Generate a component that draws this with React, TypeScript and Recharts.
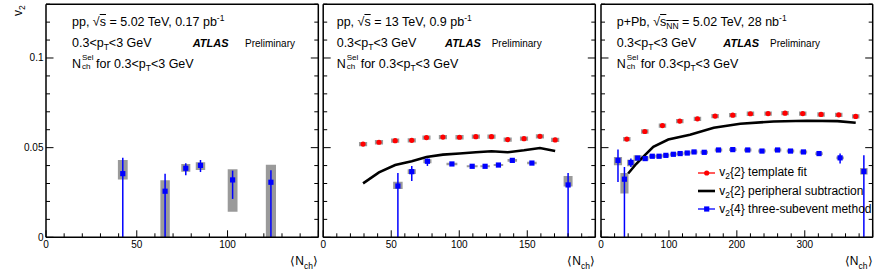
import { ComposedChart, Scatter, XAxis, YAxis, ErrorBar, ReferenceArea } from 'recharts'
import type { ReactNode } from 'react'

const W = 882
const H = 274
const TOP = 4.2
const BOTTOM = 237.3
const FONT = '"Liberation Sans", Arial, Helvetica, sans-serif'
const RED = '#ff0000'
const BLUE = '#0000ff'
const SYS = '#9a9a9a'

// shared y axis
const Y_TICKS = [0, 0.01, 0.02, 0.03, 0.04, 0.05, 0.06, 0.07, 0.08, 0.09, 0.1, 0.11, 0.12, 0.13]
const Y_MAJOR = [0, 0.05, 0.1]

// panel 1: pp 5.02 TeV
const PP5_TICKS = [0, 10, 20, 30, 40, 50, 60, 70, 80, 90, 100, 110, 120, 130, 140, 150]
const PP5_MAJOR = [0, 50, 100, 150]
const PP5_LABELS = [0, 50, 100]
const PP5_X = [42.3, 65.6, 77.0, 85.1, 102.8, 123.9]
const PP5_V24 = [0.0355, 0.0257, 0.0385, 0.0401, 0.032, 0.0307]
const PP5_V24_LO = [0, 0, 0.0346, 0.0364, 0.0214, 0]
const PP5_V24_HI = [0.0444, 0.0355, 0.0413, 0.0431, 0.0372, 0.0374]
const PP5_SYS_LO = [0.0323, 0, 0.0366, 0.0376, 0.0143, 0]
const PP5_SYS_HI = [0.0431, 0.0318, 0.0409, 0.0418, 0.0379, 0.0405]
const PP5_SYS_DX = [2.7, 2.6, 2.5, 2.6, 2.7, 2.8]

// panel 2: pp 13 TeV
const PP13_TICKS = [0, 10, 20, 30, 40, 50, 60, 70, 80, 90, 100, 110, 120, 130, 140, 150, 160, 170, 180, 190, 200]
const PP13_MAJOR = [0, 50, 100, 150, 200]
const PP13_LABELS = [0, 50, 100, 150]
const PP13_X = [29.3, 41.0, 52.9, 65.1, 75.9, 88.0, 100.2, 112.2, 123.7, 135.6, 147.6, 159.3, 170.5]
const PP13_TF = [0.052, 0.053, 0.0539, 0.0541, 0.0556, 0.0559, 0.0558, 0.0561, 0.0561, 0.0545, 0.055, 0.0563, 0.0543]
const PP13_PS = [0.0301, 0.0362, 0.0403, 0.0424, 0.0448, 0.0461, 0.0467, 0.0474, 0.048, 0.0474, 0.0485, 0.0498, 0.0481]
const PP13_TF_SYS = 0.0012
const PP13_TF_DX = 3
const PP13_V24_X = [54.9, 65.1, 76.6, 94.6, 109.5, 119.0, 128.8, 139.0, 153.4, 180.0]
const PP13_V24 = [0.0286, 0.0366, 0.0424, 0.0409, 0.0396, 0.0396, 0.0403, 0.0429, 0.0414, 0.0292]
const PP13_V24_LO = [0, 0.0314, 0.0398, 0.0403, 0.039, 0.039, 0.0397, 0.0422, 0.0407, 0]
const PP13_V24_HI = [0.0359, 0.0398, 0.0439, 0.0415, 0.0402, 0.0402, 0.0409, 0.0436, 0.0421, 0.0359]
const PP13_SYS_LO = [0.027, 0.0353, 0.0413, 0.0402, 0.039, 0.039, 0.0397, 0.0422, 0.0407, 0.0283]
const PP13_SYS_HI = [0.031, 0.0379, 0.0435, 0.0416, 0.0402, 0.0402, 0.0409, 0.0436, 0.0421, 0.0342]
const PP13_SYS_DX = [3.5, 3, 3, 4, 4, 3.5, 3.5, 3.5, 3.5, 3.3]

// panel 3: p+Pb 5.02 TeV
const PPB_TICKS = [0, 20, 40, 60, 80, 100, 120, 140, 160, 180, 200, 220, 240, 260, 280, 300, 320, 340, 360, 380, 400]
const PPB_MAJOR = [0, 100, 200, 300, 400]
const PPB_LABELS = [0, 100, 200, 300]
const PPB_TF_X = [38, 64.5, 90.5, 116, 142, 168, 194, 220, 246, 271, 297, 324, 350, 375]
const PPB_TF = [0.0548, 0.059, 0.0623, 0.0648, 0.0661, 0.0676, 0.0681, 0.0689, 0.069, 0.0692, 0.069, 0.0685, 0.0683, 0.0674]
const PPB_TF_SYS = 0.0012
const PPB_TF_DX = 5.5
const PPB_PS_X = [40, 52, 65, 77, 99, 131, 166, 205, 254, 303, 348, 375]
const PPB_PS = [0.0356, 0.041, 0.046, 0.0505, 0.0545, 0.0572, 0.0611, 0.0633, 0.0646, 0.065, 0.0648, 0.0639]
const PPB_V24_X = [25, 34.5, 44, 54, 65, 75.5, 85.5, 95.5, 106.5, 116.5, 127, 137, 152, 173, 194, 216, 237, 260, 279, 298, 321, 352, 387]
const PPB_V24 = [0.0429, 0.0324, 0.0417, 0.0442, 0.0439, 0.0452, 0.0452, 0.0457, 0.0463, 0.0467, 0.047, 0.0476, 0.0474, 0.0487, 0.0489, 0.0487, 0.0481, 0.0487, 0.0481, 0.0476, 0.0467, 0.0443, 0.0367]
const PPB_V24_LO = [0.0309, 0, 0.0392, 0.0437, 0.0434, 0.0447, 0.0447, 0.0452, 0.0458, 0.0462, 0.0465, 0.0471, 0.0469, 0.0482, 0.0484, 0.0482, 0.0476, 0.0482, 0.0476, 0.0471, 0.0461, 0.0411, 0]
const PPB_V24_HI = [0.0489, 0.0392, 0.0439, 0.0447, 0.0444, 0.0457, 0.0457, 0.0462, 0.0468, 0.0472, 0.0475, 0.0481, 0.0479, 0.0492, 0.0494, 0.0492, 0.0486, 0.0492, 0.0486, 0.0481, 0.0473, 0.0467, 0.0457]
const PPB_SYS_LO = [0.0402, 0.0244, 0.0396, 0.0425, 0.0428, 0.0444, 0.0444, 0.0449, 0.0455, 0.0459, 0.0462, 0.0468, 0.0466, 0.0479, 0.0481, 0.0479, 0.0473, 0.0479, 0.0473, 0.0468, 0.0459, 0.0435, 0.035]
const PPB_SYS_HI = [0.0448, 0.0359, 0.0433, 0.0457, 0.045, 0.046, 0.046, 0.0465, 0.0471, 0.0475, 0.0478, 0.0484, 0.0482, 0.0495, 0.0497, 0.0495, 0.0489, 0.0495, 0.0489, 0.0484, 0.0475, 0.0451, 0.0386]
const PPB_SYS_DX = [6, 6, 5.5, 6, 5, 5, 5, 5, 5, 5, 5, 5, 5.5, 5.5, 5.5, 5.5, 5.5, 5.5, 5.5, 5.5, 5.5, 5.5, 5.5]

type Pt = { x: number; y: number; err: [number, number] }
type Box = { x1: number; x2: number; y1: number; y2: number }

const pts = (xs: number[], ys: number[], lo?: number[], hi?: number[]): Pt[] =>
  xs.map((x, i) => ({ x, y: ys[i], err: lo && hi ? [ys[i] - lo[i], hi[i] - ys[i]] : [0, 0] }))

const boxes = (xs: number[], dx: number[], lo: number[], hi: number[]): Box[] =>
  xs.map((x, i) => ({ x1: x - dx[i], x2: x + dx[i], y1: lo[i], y2: hi[i] }))

const flatBoxes = (xs: number[], ys: number[], dx: number, dy: number): Box[] =>
  xs.map((x, i) => ({ x1: x - dx, x2: x + dx, y1: ys[i] - dy, y2: ys[i] + dy }))

const xTick = (major: number[], labels: number[], dir: number) => (p: any) => {
  const v = p.payload.value
  const len = major.includes(v) ? 7 : 4
  return (
    <g>
      <line x1={p.x} x2={p.x} y1={p.y} y2={p.y - dir * len} stroke="#000" strokeWidth={1} />
      {labels.includes(v) && (
        <text x={p.x} y={p.y + 10.5} textAnchor="middle" fontSize={10} fontFamily={FONT} fill="#000">
          {v}
        </text>
      )}
    </g>
  )
}

const yTick = (labels: boolean, dir: number) => (p: any) => {
  const v = p.payload.value
  const major = Y_MAJOR.includes(v)
  const len = major ? 7.5 : 4
  return (
    <g>
      <line x1={p.x} x2={p.x + dir * len} y1={p.y} y2={p.y} stroke="#000" strokeWidth={1} />
      {labels && major && (
        <text x={p.x - 2.5} y={p.y + 3.5} textAnchor="end" fontSize={10} fontFamily={FONT} fill="#000">
          {String(v)}
        </text>
      )}
    </g>
  )
}

const redDot = (p: any) => <circle cx={p.cx} cy={p.cy} r={2.6} fill={RED} />
const blueSq = (p: any) => <rect x={p.cx - 2.6} y={p.cy - 2.6} width={5.2} height={5.2} fill={BLUE} />
const noDot = () => <g />

type PanelProps = {
  left: number
  right: number
  xMax: number
  xTicks: number[]
  xMajor: number[]
  xLabels: number[]
  yLabels: boolean
  sys: Box[]
  tf?: Pt[]
  ps?: Pt[]
  v24: Pt[]
}

function Panel({ left, right, xMax, xTicks, xMajor, xLabels, yLabels, sys, tf, ps, v24 }: PanelProps) {
  const axisLine = { stroke: '#000', strokeWidth: 1.5 }
  // axes are 1px thick so the plot box sits exactly on the frame position
  return (
    <div style={{ position: 'absolute', left: 0, top: 0 }}>
      <ComposedChart width={W} height={H} margin={{ top: TOP - 1, bottom: H - BOTTOM - 1, left: left - 1, right: W - right - 1 }}>
        <XAxis xAxisId="b" type="number" dataKey="x" domain={[0, xMax]} allowDataOverflow ticks={xTicks} interval={0}
          height={1} tickSize={0} tickMargin={0} axisLine={axisLine} tickLine={false} tick={xTick(xMajor, xLabels, 1)} />
        <XAxis xAxisId="t" orientation="top" type="number" domain={[0, xMax]} allowDataOverflow ticks={xTicks} interval={0}
          height={1} tickSize={0} tickMargin={0} axisLine={axisLine} tickLine={false} tick={xTick(xMajor, [], -1)} />
        <YAxis yAxisId="l" type="number" dataKey="y" domain={[0, 0.13]} allowDataOverflow ticks={Y_TICKS} interval={0}
          width={1} tickSize={0} tickMargin={0} axisLine={axisLine} tickLine={false} tick={yTick(yLabels, 1)} />
        <YAxis yAxisId="r" orientation="right" type="number" domain={[0, 0.13]} allowDataOverflow ticks={Y_TICKS} interval={0}
          width={1} tickSize={0} tickMargin={0} axisLine={axisLine} tickLine={false} tick={yTick(false, -1)} />
        {sys.map((b, i) => (
          <ReferenceArea key={i} xAxisId="b" yAxisId="l" x1={b.x1} x2={b.x2} y1={b.y1} y2={b.y2}
            fill={SYS} fillOpacity={1} stroke="none" ifOverflow="hidden" />
        ))}
        {tf && <Scatter xAxisId="b" yAxisId="l" data={tf} shape={redDot} isAnimationActive={false} />}
        {ps && (
          <Scatter xAxisId="b" yAxisId="l" data={ps} shape={noDot} line={{ stroke: '#000', strokeWidth: 2.6 }}
            isAnimationActive={false} />
        )}
        <Scatter xAxisId="b" yAxisId="l" data={v24} shape={blueSq} isAnimationActive={false}>
          <ErrorBar dataKey="err" direction="y" width={0} stroke={BLUE} strokeWidth={1.5} />
        </Scatter>
      </ComposedChart>
    </div>
  )
}

const Txt = ({ x, y, size = 12.5, children, style }: { x: number; y: number; size?: number; children: ReactNode; style?: any }) => (
  <div style={{ position: 'absolute', left: x, top: y - 0.8465 * size, fontSize: size, lineHeight: `${size}px`, whiteSpace: 'nowrap', fontFamily: FONT, color: '#000', ...style }}>
    {children}
  </div>
)

const Sub = ({ c, dy = 3 }: { c: string; dy?: number }) => <span style={{ fontSize: 8.5, position: 'relative', top: dy }}>{c}</span>
const Sup = ({ c, dy = -5.5 }: { c: string; dy?: number }) => <span style={{ fontSize: 8.5, position: 'relative', top: dy }}>{c}</span>

const Stack = ({ up, down, w }: { up: string; down: string; w: number }) => (
  <span style={{ position: 'relative', display: 'inline-block', width: w, height: 1 }}>
    <span style={{ position: 'absolute', left: 1, top: -12.4, fontSize: 8, lineHeight: '8px' }}>{up}</span>
    <span style={{ position: 'absolute', left: 1, top: -3.8, fontSize: 8, lineHeight: '8px' }}>{down}</span>
  </span>
)

const Sqrt = ({ c, sub }: { c: string; sub?: string }) => (
  <span>
    √<span style={{ textDecoration: 'overline' }}>{c}{sub && <Sub c={sub} />}</span>
  </span>
)

function Labels({ x, ax, px, head }: { x: number; ax: number; px: number; head: ReactNode }) {
  return (
    <>
      <Txt x={x} y={26.7}>{head}</Txt>
      <Txt x={x} y={47.7}>0.3&lt;p<Sub c="T" />&lt;3 GeV</Txt>
      <Txt x={ax} y={47.7} size={11} style={{ fontWeight: 'bold', fontStyle: 'italic' }}>ATLAS</Txt>
      <Txt x={px} y={47.7} size={10}>Preliminary</Txt>
      <Txt x={x} y={68.3}>N<Stack up="Sel" down="ch" w={11.5} /> for 0.3&lt;p<Sub c="T" />&lt;3 GeV</Txt>
    </>
  )
}

const XTitle = ({ right }: { right: number }) => (
  <div style={{ position: 'absolute', right: W - right, top: 265 - 0.8465 * 12, fontSize: 12, lineHeight: '12px', fontFamily: FONT, whiteSpace: 'nowrap' }}>
    ⟨N<Sub c="ch" dy={4.5} />⟩
  </div>
)

function LegendRow({ y, kind, children }: { y: number; kind: 'tf' | 'ps' | 'v24'; children: ReactNode }) {
  const c = kind === 'tf' ? RED : kind === 'ps' ? '#000' : BLUE
  return (
    <>
      <svg style={{ position: 'absolute', left: 697, top: y - 8, overflow: 'visible' }} width={20} height={8}>
        <line x1={1} x2={18} y1={4} y2={4} stroke={c} strokeWidth={kind === 'ps' ? 2.6 : 1.3} />
        {kind === 'tf' && <circle cx={9.7} cy={4} r={2.6} fill={RED} />}
        {kind === 'v24' && <rect x={7.1} y={1.4} width={5.2} height={5.2} fill={BLUE} />}
      </svg>
      <Txt x={719.3} y={y} size={12}>{children}</Txt>
    </>
  )
}

export default function App() {
  return (
    <div style={{ position: 'absolute', left: 0, top: 0, width: W, height: H, background: '#fff', overflow: 'hidden' }}>
      <Panel left={46} right={318.3} xMax={150} xTicks={PP5_TICKS} xMajor={PP5_MAJOR} xLabels={PP5_LABELS} yLabels
        sys={boxes(PP5_X, PP5_SYS_DX, PP5_SYS_LO, PP5_SYS_HI)}
        v24={pts(PP5_X, PP5_V24, PP5_V24_LO, PP5_V24_HI)} />
      <Panel left={323.2} right={595.3} xMax={200} xTicks={PP13_TICKS} xMajor={PP13_MAJOR} xLabels={PP13_LABELS} yLabels={false}
        sys={[...flatBoxes(PP13_X, PP13_TF, PP13_TF_DX, PP13_TF_SYS), ...boxes(PP13_V24_X, PP13_SYS_DX, PP13_SYS_LO, PP13_SYS_HI)]}
        tf={pts(PP13_X, PP13_TF)} ps={pts(PP13_X, PP13_PS)}
        v24={pts(PP13_V24_X, PP13_V24, PP13_V24_LO, PP13_V24_HI)} />
      <Panel left={601} right={872.7} xMax={400} xTicks={PPB_TICKS} xMajor={PPB_MAJOR} xLabels={PPB_LABELS} yLabels={false}
        sys={[...flatBoxes(PPB_TF_X, PPB_TF, PPB_TF_DX, PPB_TF_SYS), ...boxes(PPB_V24_X, PPB_SYS_DX, PPB_SYS_LO, PPB_SYS_HI)]}
        tf={pts(PPB_TF_X, PPB_TF)} ps={pts(PPB_PS_X, PPB_PS)}
        v24={pts(PPB_V24_X, PPB_V24, PPB_V24_LO, PPB_V24_HI)} />

      <div style={{ position: 'absolute', left: 12, top: 16, transform: 'rotate(-90deg)', transformOrigin: '0 0', fontSize: 12, lineHeight: '12px', fontFamily: FONT, whiteSpace: 'nowrap' }}>
        v<Sub c="2" dy={2.5} />
      </div>

      <Labels x={72} ax={192.7} px={245} head={<>pp, <Sqrt c="s" /> = 5.02 TeV, 0.17 pb<Sup c="-1" /></>} />
      <Labels x={336.7} ax={445} px={491.7} head={<>pp, <Sqrt c="s" /> = 13 TeV, 0.9 pb<Sup c="-1" /></>} />
      <Labels x={616.7} ax={723.3} px={770} head={<>p+Pb, <Sqrt c="s" sub="NN" /> = 5.02 TeV, 28 nb<Sup c="-1" /></>} />

      <XTitle right={318} />
      <XTitle right={595} />
      <XTitle right={872.5} />

      <LegendRow y={176.5} kind="tf">v<Sub c="2" />{'{2}'} template fit</LegendRow>
      <LegendRow y={195.3} kind="ps">v<Sub c="2" />{'{2}'} peripheral subtraction</LegendRow>
      <LegendRow y={213} kind="v24">v<Sub c="2" />{'{4}'} three-subevent method</LegendRow>
    </div>
  )
}
